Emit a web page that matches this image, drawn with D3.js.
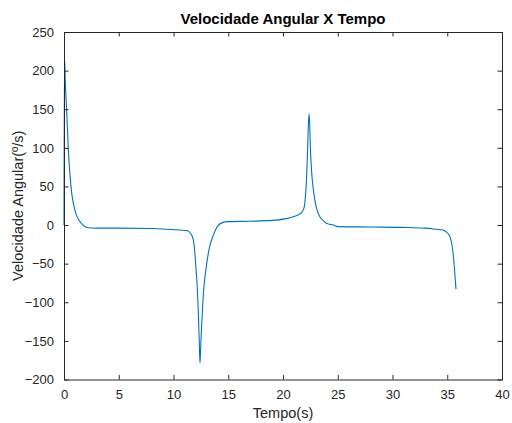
<!DOCTYPE html>
<html>
<head>
<meta charset="utf-8">
<script src="https://cdn.jsdelivr.net/npm/d3@7"></script>
<style>
  body { margin: 0; background: #fff; }
  svg { display: block; font-family: "Liberation Sans", Arial, sans-serif; }
</style>
</head>
<body>
<div id="chart"></div>
<script>
// Velocidade angular (º/s) ao longo do tempo (s)
const tempo = [0, 0.04, 0.12, 0.24, 0.4, 0.61, 1.0, 1.6, 2.2, 3, 5, 8, 9.5, 10.6,
  11.2, 11.66, 11.9, 12.02, 12.15, 12.27, 12.35, 12.42, 12.52, 12.63, 12.75, 12.9, 13.05,
  13.27, 13.64, 14.0, 14.5, 15, 17, 19, 20.5, 21.2, 21.7, 21.95, 22.05, 22.15, 22.25, 22.32, 22.4, 22.5,
  22.6, 22.75, 22.9, 23.1, 23.35, 23.65, 24.0, 24.6, 25, 28, 31, 33, 34, 34.6, 35.0, 35.25,
  35.5, 35.65, 35.8];
const velocidade = [0, 219, 185, 149, 97, 54, 19, 2, -3.5, -4, -4, -4.5, -5.5, -6.5,
  -7, -13, -28, -50, -76, -114, -150, -179, -145, -114, -85, -64, -48,
  -30, -13, -2, 3.5, 4.5, 5, 6, 9, 12, 16, 24, 38, 60, 100, 130, 144, 100,
  72, 48, 33, 20, 11, 6, 2, 0, -2, -2.5, -3, -4, -5.5, -6.5, -10, -15,
  -32, -55, -83];
const xTicks = [0, 5, 10, 15, 20, 25, 30, 35, 40];
const yTicks = [-200, -150, -100, -50, 0, 50, 100, 150, 200, 250];

const W = 512, H = 423;
const margin = { top: 32, right: 10, bottom: 43.5, left: 64 };
const innerW = W - margin.left - margin.right;
const innerH = H - margin.top - margin.bottom;
const axisColor = '#262626';

const svg = d3.select('#chart').append('svg')
  .attr('width', W)
  .attr('height', H);

const g = svg.append('g').attr('transform', `translate(${margin.left},${margin.top})`);

const x = d3.scaleLinear().domain([0, 40]).range([0, innerW]);
const y = d3.scaleLinear().domain([-200, 250]).range([innerH, 0]);

// Data line
const line = d3.line()
  .x((d, i) => x(tempo[i]))
  .y(d => y(d))
  .curve(d3.curveMonotoneX);

g.append('path')
  .datum(velocidade)
  .attr('fill', 'none')
  .attr('stroke', '#0072BD')
  .attr('stroke-width', 1.1)
  .attr('d', line);

// Axes (ticks pointing inward, box on all sides)
const styleAxis = sel => {
  sel.select('.domain').attr('stroke', axisColor);
  sel.selectAll('.tick line').attr('stroke', axisColor);
  sel.selectAll('.tick text').attr('fill', axisColor).style('font-size', '13px');
};

g.append('g').attr('transform', `translate(0,${innerH})`)
  .call(d3.axisBottom(x).tickValues(xTicks).tickSizeInner(-4.5).tickSizeOuter(0).tickPadding(10))
  .call(styleAxis);

g.append('g')
  .call(d3.axisLeft(y).tickValues(yTicks).tickSizeInner(-4.5).tickSizeOuter(0).tickPadding(10))
  .call(styleAxis);

g.append('g')
  .call(d3.axisTop(x).tickValues(xTicks).tickSizeInner(-4.5).tickSizeOuter(0).tickFormat(''))
  .call(styleAxis);

g.append('g').attr('transform', `translate(${innerW},0)`)
  .call(d3.axisRight(y).tickValues(yTicks).tickSizeInner(-4.5).tickSizeOuter(0).tickFormat(''))
  .call(styleAxis);

// Title and labels
svg.append('text')
  .attr('x', margin.left + innerW / 2)
  .attr('y', 24)
  .attr('text-anchor', 'middle')
  .style('font-size', '15px')
  .style('font-weight', 'bold')
  .attr('fill', '#000')
  .text('Velocidade Angular X Tempo');

svg.append('text')
  .attr('x', margin.left + innerW / 2)
  .attr('y', 418)
  .attr('text-anchor', 'middle')
  .style('font-size', '14.5px')
  .attr('fill', axisColor)
  .text('Tempo(s)');

svg.append('text')
  .attr('transform', `translate(23,${margin.top + innerH / 2}) rotate(-90)`)
  .attr('text-anchor', 'middle')
  .style('font-size', '14.5px')
  .attr('fill', axisColor)
  .text('Velocidade Angular(º/s)');
</script>
</body>
</html>
